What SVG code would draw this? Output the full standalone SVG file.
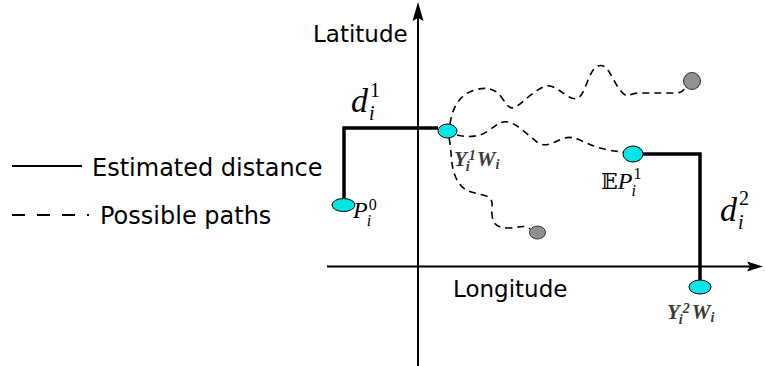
<svg xmlns="http://www.w3.org/2000/svg" width="765" height="366" viewBox="0 0 765 366">
<style>
.axis{stroke:#000;stroke-width:2;fill:none}
.est{stroke:#000;stroke-width:3.5;fill:none;stroke-linecap:butt}
.path{stroke:#000;stroke-width:1.6;fill:none;stroke-dasharray:7,5}
.node{fill:#00e6e6;stroke:#000;stroke-width:1}
.end{fill:#909090;stroke:#333;stroke-width:1}
.lbl{font-family:"DejaVu Sans",sans-serif;font-size:23px;fill:#000}
.leg{font-family:"DejaVu Sans",sans-serif;font-size:24px;fill:#000}
.m{font-family:"Liberation Serif","DejaVu Serif",serif;fill:#000}
.up{font-style:normal}
.it{font-style:italic}
.y{font-family:"Liberation Serif","DejaVu Serif",serif;font-style:italic;font-weight:bold;fill:#3a3a3a}
</style>
<g id="axes">
<line class="axis" x1="418" y1="14" x2="418" y2="366"/>
<path d="M418,2 L423.5,21 L418,18 L412.5,21 Z" fill="#000"/>
<line class="axis" x1="327" y1="266.5" x2="754" y2="266.5"/>
<path d="M763,266.5 L747,271.5 L750,266.5 L747,261.5 Z" fill="#000"/>
<text class="lbl" x="313" y="42">Latitude</text>
<text class="lbl" x="453" y="297">Longitude</text>
</g>
<g id="legend">
<line x1="12" y1="166" x2="82" y2="166" stroke="#000" stroke-width="2"/>
<text class="leg" x="92" y="176">Estimated distance</text>
<line x1="12" y1="215" x2="89" y2="215" stroke="#000" stroke-width="2" stroke-dasharray="13,12"/>
<text class="leg" x="100" y="224">Possible paths</text>
</g>
<g id="connectors">
<path class="est" d="M344,198 L344,128 L438,128"/>
<path class="est" d="M642,154 L700,154 L700,280"/>
<path class="path" d="M450,124 C452,110 458,96 472,91 S495,88 502,98 S510,110 517,106 S540,84 550,86 S570,102 578,98 S588,70 598,66 S612,80 620,90 S627,93 640,93 L677,93 C683,93 685,88 687,85"/>
<path class="path" d="M457,135 C465,137 478,138 488,131 S500,121 508,122 S528,135 537,142 S555,141 565,138 S585,144 600,148 S618,151 623,152"/>
<path class="path" d="M449,138 C452,150 450,165 456,178 S470,192 483,195 S491,205 492,215 S498,228 508,228 S525,224 530,229"/>
</g>
<g id="p0">
<ellipse class="node" cx="343.5" cy="205" rx="11.5" ry="6.5"/>
<text class="m" x="353" y="218" font-size="24"><tspan class="it">P</tspan><tspan font-size="16" dx="1" dy="-8">0</tspan><tspan class="it" font-size="16" dx="-10" dy="16">i</tspan></text>
</g>
<g id="d1">
<text class="m" x="351" y="112" font-size="34"><tspan class="it">d</tspan><tspan font-size="20" dx="2" dy="-15">1</tspan><tspan class="it" font-size="20" dx="-11" dy="23">i</tspan></text>
</g>
<g id="y1w">
<ellipse class="node" cx="447.5" cy="131" rx="9.5" ry="7"/>
<text class="y" x="454" y="166" font-size="21">Y<tspan font-size="14" dx="2" dy="-6">1</tspan><tspan font-size="14" dx="-10" dy="11">i</tspan><tspan font-size="21" dx="7" dy="-5">W</tspan><tspan font-size="14" dy="3">i</tspan></text>
</g>
<g id="ep1">
<ellipse class="node" cx="633" cy="154" rx="10" ry="8"/>
<text class="m" x="601" y="189" font-size="22">𝔼<tspan class="it" font-size="24">P</tspan><tspan font-size="16" dx="1" dy="-10">1</tspan><tspan class="it" font-size="16" dx="-10" dy="17">i</tspan></text>
</g>
<g id="d2">
<text class="m" x="720" y="221" font-size="34"><tspan class="it">d</tspan><tspan font-size="20" dx="2" dy="-16">2</tspan><tspan class="it" font-size="20" dx="-11" dy="24">i</tspan></text>
</g>
<g id="y2w">
<ellipse class="node" cx="700" cy="287" rx="11" ry="7"/>
<text class="y" x="667" y="319" font-size="21">Y<tspan font-size="14" dx="3" dy="-6">2</tspan><tspan font-size="14" dx="-11" dy="11">i</tspan><tspan font-size="21" dx="9" dy="-5">W</tspan><tspan font-size="14" dy="3">i</tspan></text>
</g>
<g id="end1">
<ellipse class="end" cx="692" cy="81" rx="8.5" ry="8.5"/>
</g>
<g id="end2">
<ellipse class="end" cx="537.5" cy="232.5" rx="8" ry="6.5" fill="#a8a8a8"/>
</g>
</svg>
